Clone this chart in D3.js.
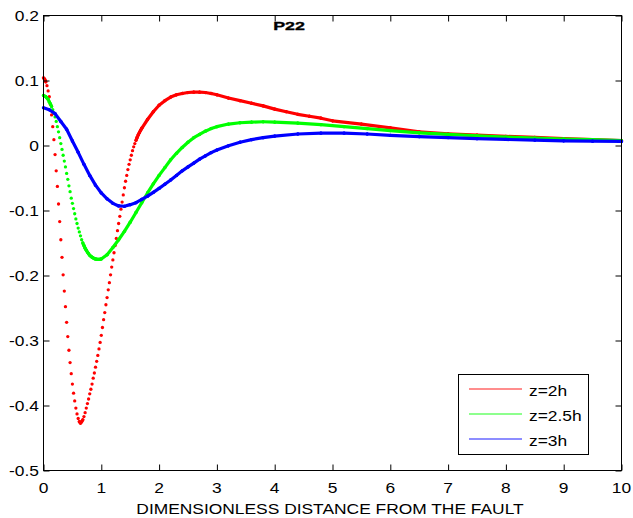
<!DOCTYPE html>
<html>
<head>
<meta charset="utf-8">
<script src="https://cdn.jsdelivr.net/npm/d3@7"></script>
<style>
  body { margin: 0; background: #fff; }
  text { font-family: "Liberation Sans", Arial, sans-serif; fill: #000; }
</style>
</head>
<body>
<svg id="chart" width="633" height="518"></svg>
<script>
// Axis ticks
var xTickValues = [0, 1, 2, 3, 4, 5, 6, 7, 8, 9, 10];
var xTickLabels = ["0", "1", "2", "3", "4", "5", "6", "7", "8", "9", "10"];
var yTickValues = [0.2, 0.1, 0, -0.1, -0.2, -0.3, -0.4, -0.5];
var yTickLabels = ["0.2", "0.1", "0", "-0.1", "-0.2", "-0.3", "-0.4", "-0.5"];

var seriesNames = ["z=2h", "z=2.5h", "z=3h"];
var seriesColors = ["#ff0000", "#00ff00", "#0000ff"];

// Sampling step of the dense part (x = i * step)
var DENSE_STEP = 0.02;

// z=2h : dense part x = 0 .. 1.70
var redDense = [0.104, 0.102, 0.098, 0.092, 0.084, 0.075, 0.063, 0.047, 0.029, 0.009,
  -0.014, -0.039, -0.063, -0.090, -0.117, -0.145, -0.172, -0.199, -0.224, -0.248,
  -0.272, -0.294, -0.315, -0.334, -0.351, -0.367, -0.381, -0.393, -0.404, -0.413,
  -0.420, -0.425, -0.427, -0.425, -0.422, -0.417, -0.411, -0.404, -0.397, -0.390,
  -0.382, -0.375, -0.367, -0.358, -0.350, -0.341, -0.332, -0.323, -0.313, -0.303,
  -0.292, -0.280, -0.268, -0.257, -0.245, -0.234, -0.222, -0.211, -0.199, -0.187,
  -0.176, -0.165, -0.154, -0.143, -0.131, -0.120, -0.109, -0.098, -0.087, -0.076,
  -0.065, -0.055, -0.046, -0.037, -0.029, -0.022, -0.015, -0.008, -0.002, 0.003,
  0.008, 0.0125, 0.0165, 0.020, 0.0235, 0.0265];
var redX = [1.8, 1.9, 2.0, 2.1, 2.2, 2.3, 2.4, 2.5, 2.6, 2.7, 2.8, 2.9, 3.0, 3.2, 3.4, 3.6, 3.8,
  4.0, 4.2, 4.4, 4.6, 4.8, 5.0, 5.5, 6.0, 6.5, 7.0, 7.5, 8.0, 8.5, 9.0, 9.5, 10];
var redY = [0.040, 0.052, 0.062, 0.069, 0.0745, 0.078, 0.080, 0.0815, 0.082, 0.082, 0.0815, 0.080,
  0.078, 0.073, 0.069, 0.065, 0.061, 0.056, 0.052, 0.048, 0.045, 0.042, 0.038, 0.033, 0.027,
  0.021, 0.018, 0.016, 0.014, 0.0125, 0.0105, 0.009, 0.0075];

// z=2.5h : dense part x = 0 .. 1.00
var greenDense = [0.077, 0.076, 0.075, 0.073, 0.071, 0.067, 0.064, 0.060, 0.055, 0.050,
  0.044, 0.037, 0.029, 0.021, 0.012, 0.003, -0.006, -0.015, -0.024, -0.033,
  -0.043, -0.052, -0.062, -0.071, -0.081, -0.089, -0.097, -0.105, -0.113, -0.120,
  -0.127, -0.133, -0.139, -0.145, -0.150, -0.154, -0.158, -0.161, -0.164, -0.1665,
  -0.169, -0.1705, -0.172, -0.173, -0.174, -0.1745, -0.175, -0.1752, -0.1752, -0.175, -0.1745];
var greenX = [1.1, 1.2, 1.3, 1.4, 1.5, 1.6, 1.7, 1.8, 1.9, 2.0, 2.1, 2.2, 2.3, 2.4, 2.5, 2.6,
  2.7, 2.8, 2.9, 3.0, 3.2, 3.4, 3.6, 3.8, 4.0, 4.4, 4.8, 5.2, 5.6, 6.0, 6.5, 7.0, 7.5, 8.0,
  8.5, 9.0, 9.5, 10];
var greenY = [-0.168, -0.157, -0.145, -0.132, -0.118, -0.103, -0.088, -0.073, -0.059, -0.046,
  -0.034, -0.022, -0.012, -0.003, 0.005, 0.012, 0.017, 0.022, 0.026, 0.029, 0.033, 0.035,
  0.036, 0.0365, 0.036, 0.0345, 0.032, 0.029, 0.026, 0.023, 0.0195, 0.017, 0.015, 0.013,
  0.0115, 0.010, 0.009, 0.0075];

// z=3h
var blueX = [0, 0.1, 0.2, 0.3, 0.4, 0.5, 0.6, 0.7, 0.8, 0.9, 1.0, 1.1, 1.2, 1.3, 1.4, 1.5,
  1.6, 1.7, 1.8, 1.9, 2.0, 2.1, 2.2, 2.3, 2.4, 2.5, 2.6, 2.7, 2.8, 2.9, 3.0, 3.2, 3.4, 3.6,
  3.8, 4.0, 4.4, 4.8, 5.2, 5.6, 6.0, 6.5, 7.0, 7.5, 8.0, 8.5, 9.0, 9.5, 10];
var blueY = [0.058, 0.055, 0.049, 0.037, 0.025, 0.007, -0.0105, -0.029, -0.046, -0.061,
  -0.073, -0.082, -0.089, -0.093, -0.0935, -0.091, -0.088, -0.083, -0.078, -0.072,
  -0.066, -0.0595, -0.053, -0.046, -0.039, -0.033, -0.027, -0.021, -0.016, -0.011,
  -0.007, -0.0005, 0.005, 0.009, 0.012, 0.0145, 0.0177, 0.019, 0.019, 0.0177, 0.0157,
  0.0136, 0.0122, 0.0105, 0.0093, 0.0083, 0.0072, 0.0066, 0.0062];

// Scales
var xScale = d3.scaleLinear().domain([0, 10]).range([43.5, 621.5]);
var yScale = d3.scaleLinear().domain([-0.5, 0.2]).range([470.5, 15.5]);

var FONT = 14.5;
var STRETCH = 1.2;

var svg = d3.select("#chart");

// Joins the dense samples and the coarse points of one curve
function makePoints(dense, cx, cy) {
  var pts = dense.map(function (v, i) { return { x: i * DENSE_STEP, y: v }; });
  cx.forEach(function (v, i) { pts.push({ x: v, y: cy[i] }); });
  return pts;
}

var series = [
  makePoints(redDense, redX, redY),
  makePoints(greenDense, greenX, greenY),
  makePoints([], blueX, blueY)
];

// Horizontally stretched text, like the original figure
function label(g, x, y, txt, anchor, size, weight) {
  return g.append("text")
      .attr("transform", "translate(" + x + "," + y + ") scale(" + STRETCH + ",1)")
      .attr("text-anchor", anchor)
      .style("font-size", size + "px")
      .style("font-weight", weight || "normal")
      .text(txt);
}

// Curves: dots, joined where the dots would overlap anyway
var dotPx = xScale(DENSE_STEP) - xScale(0);
var curves = svg.append("g").attr("class", "curves");
series.forEach(function (pts, k) {
  var g = curves.append("g");
  var segs = d3.pairs(pts).filter(function (p) {
    var dx = xScale(p[1].x) - xScale(p[0].x);
    var dy = Math.abs(yScale(p[1].y) - yScale(p[0].y));
    return dy / dx * dotPx < 3.2;
  });
  g.selectAll("line").data(segs).enter().append("line")
      .attr("x1", function (p) { return xScale(p[0].x); })
      .attr("y1", function (p) { return yScale(p[0].y); })
      .attr("x2", function (p) { return xScale(p[1].x); })
      .attr("y2", function (p) { return yScale(p[1].y); })
      .attr("stroke", seriesColors[k])
      .attr("stroke-width", 3.2)
      .attr("stroke-linecap", "round");
  g.selectAll("circle").data(pts).enter().append("circle")
      .attr("cx", function (d) { return xScale(d.x); })
      .attr("cy", function (d) { return yScale(d.y); })
      .attr("r", 1.65)
      .attr("fill", seriesColors[k]);
});

// Axes with inward ticks on all four sides
function plainAxis(axis) {
  return axis.tickSize(-6).tickFormat("");
}
var axes = svg.append("g").attr("class", "axes");
axes.append("g").attr("transform", "translate(0,470.5)")
    .call(plainAxis(d3.axisBottom(xScale).tickValues(xTickValues)));
axes.append("g").attr("transform", "translate(0,15.5)")
    .call(plainAxis(d3.axisTop(xScale).tickValues(xTickValues)));
axes.append("g").attr("transform", "translate(43.5,0)")
    .call(plainAxis(d3.axisLeft(yScale).tickValues(yTickValues)));
axes.append("g").attr("transform", "translate(621.5,0)")
    .call(plainAxis(d3.axisRight(yScale).tickValues(yTickValues)));
axes.selectAll(".domain").remove();
axes.selectAll(".tick line").attr("stroke", "#000");

axes.append("rect")
    .attr("x", 43.5).attr("y", 15.5)
    .attr("width", 578).attr("height", 455)
    .attr("fill", "none").attr("stroke", "#000").attr("stroke-width", 1);

// Tick labels
xTickValues.forEach(function (v, i) {
  label(axes, xScale(v), 493, xTickLabels[i], "middle", FONT);
});
yTickValues.forEach(function (v, i) {
  label(axes, 39, yScale(v) + 5.5, yTickLabels[i], "end", FONT);
});

// Axis title and plot title
label(svg, 330, 514, "DIMENSIONLESS DISTANCE FROM THE FAULT", "middle", FONT);
svg.append("text")
    .attr("transform", "translate(289,30) scale(1.7,1)")
    .attr("text-anchor", "middle")
    .style("font-size", "10.5px")
    .style("font-weight", "bold")
    .attr("stroke", "#000").attr("stroke-width", 0.3)
    .text("P22");

// Legend
var legend = svg.append("g").attr("class", "legend");
legend.append("rect")
    .attr("x", 458.5).attr("y", 374.5)
    .attr("width", 130).attr("height", 80)
    .attr("fill", "#fff").attr("stroke", "#000").attr("stroke-width", 1);
seriesNames.forEach(function (name, k) {
  var ly = 389 + k * 25;
  legend.append("line")
      .attr("x1", 469).attr("x2", 522)
      .attr("y1", ly).attr("y2", ly)
      .attr("stroke", seriesColors[k])
      .attr("stroke-opacity", 0.6)
      .attr("stroke-width", 1.5);
  label(legend, 529, ly + 7, name, "start", FONT);
});
</script>
</body>
</html>
